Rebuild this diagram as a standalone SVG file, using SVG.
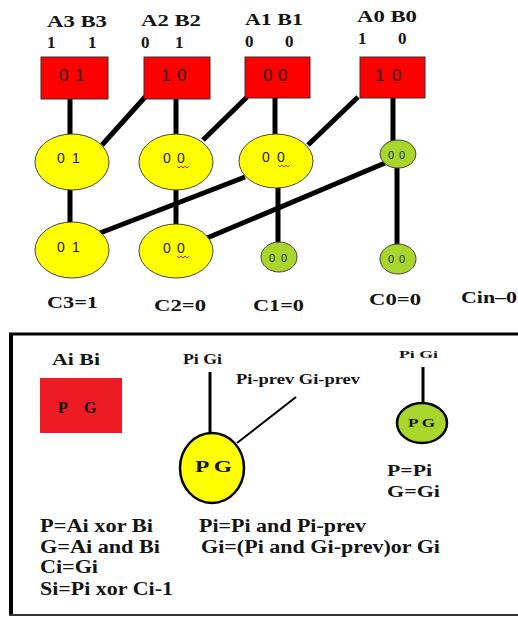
<svg xmlns="http://www.w3.org/2000/svg" width="518" height="619" viewBox="0 0 518 619">
<style>
.t{font-family:"Liberation Serif","Times New Roman",serif;font-weight:bold;fill:#141414}
.d{font-family:"Liberation Sans",Arial,sans-serif;fill:#1a1a1a}
.g{font-family:"Liberation Sans",Arial,sans-serif;fill:#1c1c5a}
.box{fill:#ff0000;stroke:#333;stroke-width:1}
.yc{fill:#ffff00;stroke:#444;stroke-width:1}
.gc{fill:#a9d62a;stroke:#444;stroke-width:1}
.con line{stroke:#000;stroke-width:5}
.sq{fill:none;stroke:#e02020;stroke-width:1}
</style>
<rect width="518" height="619" fill="#fff"/>
<g id="connectors" class="con">
<line x1="70" y1="99" x2="70" y2="136"/>
<line x1="146" y1="96" x2="102" y2="145"/>
<line x1="176" y1="99" x2="176" y2="136"/>
<line x1="247" y1="97" x2="203" y2="140"/>
<line x1="275" y1="98" x2="275" y2="136"/>
<line x1="358" y1="97" x2="308" y2="145"/>
<line x1="393" y1="98" x2="393" y2="141"/>
<line x1="70" y1="188" x2="70" y2="224"/>
<line x1="176" y1="188" x2="176" y2="226"/>
<line x1="245" y1="177" x2="100" y2="233"/>
<line x1="278" y1="186" x2="278" y2="243"/>
<line x1="385" y1="163" x2="207" y2="238"/>
<line x1="397" y1="167" x2="397" y2="245"/>
</g>
<g id="labels-top">
<text class="t" x="47" y="27" font-size="17" textLength="60" lengthAdjust="spacingAndGlyphs">A3 B3</text>
<text class="t" x="47 88" y="48" font-size="17">11</text>
<text class="t" x="141" y="26" font-size="17" textLength="60" lengthAdjust="spacingAndGlyphs">A2 B2</text>
<text class="t" x="141 175" y="48" font-size="17">01</text>
<text class="t" x="245" y="25" font-size="17" textLength="58" lengthAdjust="spacingAndGlyphs">A1 B1</text>
<text class="t" x="245 285" y="47" font-size="17">00</text>
<text class="t" x="357" y="22" font-size="17" textLength="60" lengthAdjust="spacingAndGlyphs">A0 B0</text>
<text class="t" x="358 398" y="44" font-size="17">10</text>
</g>
<g id="box3"><rect class="box" x="41" y="57" width="67" height="42"/><text class="d" x="59 75" y="81" font-size="17">01</text></g>
<g id="box2"><rect class="box" x="144" y="57" width="66" height="42"/><text class="d" x="161 177" y="81" font-size="17">10</text></g>
<g id="box1"><rect class="box" x="245" y="57" width="65" height="41"/><text class="d" x="263 278" y="81" font-size="17">00</text></g>
<g id="box0"><rect class="box" x="360" y="57" width="65" height="41"/><text class="d" x="375 392" y="81" font-size="17">10</text></g>
<g id="n13"><ellipse class="yc" cx="72" cy="162" rx="37" ry="28"/><text class="d" x="57 72" y="163" font-size="14">01</text></g>
<g id="n12"><ellipse class="yc" cx="176" cy="162" rx="37" ry="28"/><text class="d" x="163 177" y="163" font-size="14">00</text><path class="sq" d="M177,166 l2,2 l2,-2 l2,2 l2,-2 l2,2 l2,-2"/></g>
<g id="n11"><ellipse class="yc" cx="276" cy="161" rx="37" ry="27"/><text class="d" x="262 277" y="162" font-size="14">00</text><path class="sq" d="M278,165 l2,2 l2,-2 l2,2 l2,-2 l2,2 l2,-2"/></g>
<g id="n10"><ellipse class="gc" cx="398" cy="154" rx="18" ry="14"/><text class="g" x="388 399" y="159" font-size="11">00</text></g>
<g id="n23"><ellipse class="yc" cx="72" cy="250" rx="37" ry="28"/><text class="d" x="57 72" y="252" font-size="14">01</text></g>
<g id="n22"><ellipse class="yc" cx="176" cy="251" rx="37" ry="27"/><text class="d" x="163 177" y="253" font-size="14">00</text><path class="sq" d="M177,256 l2,2 l2,-2 l2,2 l2,-2 l2,2 l2,-2"/></g>
<g id="n21"><ellipse class="gc" cx="279" cy="257" rx="18" ry="15"/><text class="g" x="269 281" y="262" font-size="11">00</text></g>
<g id="n20"><ellipse class="gc" cx="398" cy="259" rx="18" ry="15"/><text class="g" x="388 399" y="263" font-size="11">00</text></g>
<g id="carries">
<text class="t" x="47" y="308" font-size="17" textLength="51" lengthAdjust="spacingAndGlyphs">C3=1</text>
<text class="t" x="154" y="311" font-size="17" textLength="52" lengthAdjust="spacingAndGlyphs">C2=0</text>
<text class="t" x="253" y="311" font-size="17" textLength="51" lengthAdjust="spacingAndGlyphs">C1=0</text>
<text class="t" x="369" y="305" font-size="17" textLength="52" lengthAdjust="spacingAndGlyphs">C0=0</text>
<text class="t" x="461" y="303" font-size="17" textLength="56" lengthAdjust="spacingAndGlyphs">Cin–0</text>
</g>
<g id="legend">
<line x1="11" y1="333" x2="11" y2="616" stroke="#000" stroke-width="4"/>
<line x1="9" y1="334" x2="518" y2="334" stroke="#000" stroke-width="3"/>
<line x1="9" y1="615" x2="518" y2="615" stroke="#333" stroke-width="2"/>
<text class="t" x="52" y="365" font-size="16" textLength="48" lengthAdjust="spacingAndGlyphs">Ai Bi</text>
<g id="legend-box"><rect x="40" y="378" width="82" height="55" fill="#ed1c24"/><text class="t" x="58 84" y="413" font-size="16" fill="#2a2040">PG</text></g>
<text class="t" x="183" y="364" font-size="14" textLength="39" lengthAdjust="spacingAndGlyphs">Pi Gi</text>
<line x1="210" y1="372" x2="210" y2="434" stroke="#000" stroke-width="3"/>
<text class="t" x="236" y="384" font-size="14" textLength="124" lengthAdjust="spacingAndGlyphs">Pi-prev  Gi-prev</text>
<line x1="296" y1="397" x2="237" y2="443" stroke="#000" stroke-width="2"/>
<g id="legend-yellow"><ellipse cx="212" cy="468" rx="32" ry="35" fill="#ffff00" stroke="#000" stroke-width="2.5"/><text class="t" x="195" y="472" font-size="16" textLength="37" lengthAdjust="spacingAndGlyphs">P G</text></g>
<text class="t" x="399" y="358" font-size="11" textLength="39" lengthAdjust="spacingAndGlyphs">Pi Gi</text>
<line x1="423" y1="367" x2="423" y2="404" stroke="#000" stroke-width="3"/>
<g id="legend-green"><ellipse cx="422" cy="423" rx="25" ry="20" fill="#a9d62a" stroke="#000" stroke-width="2.5"/><text class="t" x="408" y="427" font-size="12" textLength="27" lengthAdjust="spacingAndGlyphs">P G</text></g>
<text class="t" x="387" y="476" font-size="17" textLength="45" lengthAdjust="spacingAndGlyphs">P=Pi</text>
<text class="t" x="387" y="497" font-size="17" textLength="53" lengthAdjust="spacingAndGlyphs">G=Gi</text>
<text class="t" x="40" y="532" font-size="18" textLength="113" lengthAdjust="spacingAndGlyphs">P=Ai xor Bi</text>
<text class="t" x="40" y="553" font-size="18" textLength="120" lengthAdjust="spacingAndGlyphs">G=Ai and Bi</text>
<text class="t" x="40" y="573" font-size="18" textLength="58" lengthAdjust="spacingAndGlyphs">Ci=Gi</text>
<text class="t" x="40" y="595" font-size="18" textLength="133" lengthAdjust="spacingAndGlyphs">Si=Pi xor Ci-1</text>
<text class="t" x="199" y="532" font-size="18" textLength="167" lengthAdjust="spacingAndGlyphs">Pi=Pi and Pi-prev</text>
<text class="t" x="201" y="553" font-size="18" textLength="239" lengthAdjust="spacingAndGlyphs">Gi=(Pi and Gi-prev)or Gi</text>
</g>
</svg>
